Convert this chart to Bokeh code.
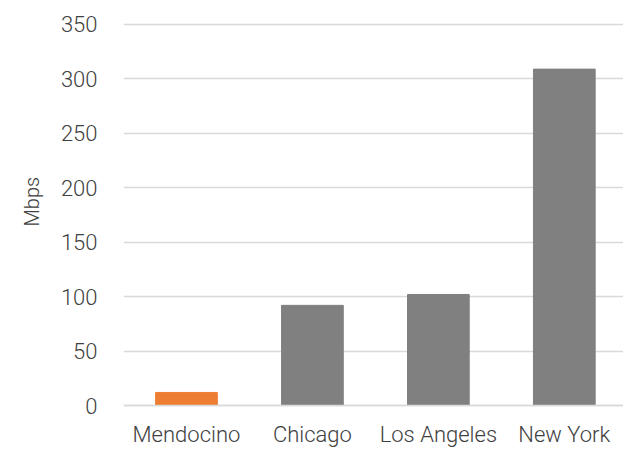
from bokeh.plotting import figure
from bokeh.models import Range1d, FixedTicker, Span, ColumnDataSource, Title
from bokeh.embed import file_html
from bokeh.resources import INLINE

cities = ["Mendocino", "Chicago", "Los Angeles", "New York"]
speeds = [12, 92, 102, 309]
colors = ["#ED7D31", "#808080", "#808080", "#808080"]
y_ticks = [0, 50, 100, 150, 200, 250, 300, 350]
y_title = "Mbps"

xpos = [i + 0.5 for i in range(len(cities))]
src = ColumnDataSource(dict(x=xpos, top=speeds, color=colors))

FONT = "'Roboto Light', Roboto"
TXT = "#404040"

p = figure(width=623, height=449, output_backend="svg", toolbar_location=None,
           x_range=Range1d(0, 3.97), y_range=Range1d(-1.83, 353.66),
           min_border_left=123, min_border_right=0, min_border_top=20, min_border_bottom=41)
p.outline_line_color = None
p.background_fill_color = "white"
p.border_fill_color = "white"

p.vbar(x="x", top="top", bottom=0, width=0.49, color="color", source=src)

p.add_layout(Span(location=0, dimension="width", line_color="#d9d9d9", line_width=1.5, level="overlay"))

p.xgrid.grid_line_color = None
p.ygrid.grid_line_color = "#d9d9d9"
p.ygrid.grid_line_width = 1.5

p.yaxis.ticker = FixedTicker(ticks=y_ticks)
p.xaxis.ticker = FixedTicker(ticks=xpos)
p.xaxis.major_label_overrides = {x: c for x, c in zip(xpos, cities)}

for ax in (p.xaxis[0], p.yaxis[0]):
    ax.axis_line_color = None
    ax.major_tick_line_color = None
    ax.minor_tick_line_color = None
    ax.major_label_text_font = FONT
    ax.major_label_text_font_size = "22px"
    ax.major_label_text_color = TXT

p.yaxis.major_label_standoff = 20
p.xaxis.major_label_standoff = 8

title = Title(text=y_title, align="left", offset=181, standoff=28,
              text_font=FONT, text_font_size="20px", text_font_style="normal",
              text_color=TXT)
p.add_layout(title, "left")

open("out.html", "w").write(file_html(p, INLINE))
